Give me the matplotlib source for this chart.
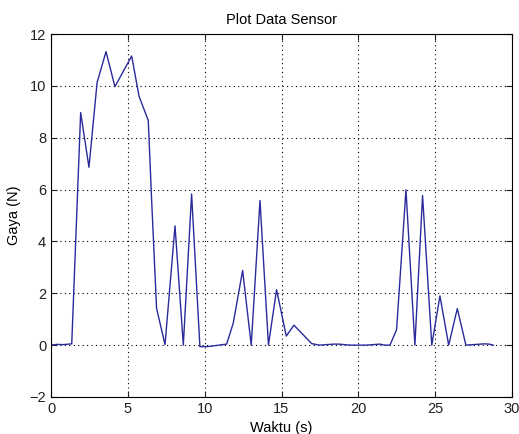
import matplotlib
matplotlib.use("Agg")
import matplotlib.pyplot as plt

waktu = [0.0, 0.4, 0.8, 1.35, 1.93, 2.47, 3.0, 3.58, 4.16, 5.25, 5.73, 6.33,
         6.55, 6.87, 7.42, 8.07, 8.61, 9.15, 9.69, 10.3, 11.43, 11.86, 12.47,
         13.03, 13.6, 14.15, 14.68, 15.31, 15.81, 16.96, 17.46, 18.4, 18.7,
         19.5, 20.5, 21.4, 21.7, 22.06, 22.49, 23.1, 23.68, 24.18, 24.78,
         25.31, 25.88, 26.44, 27.0, 28.2, 28.5, 28.78]
gaya = [0.0, 0.03, 0.02, 0.05, 8.97, 6.86, 10.13, 11.32, 9.97, 11.15, 9.6, 8.66,
        5.58, 1.42, 0.02, 4.6, 0.0, 5.83, -0.06, -0.05, 0.04, 0.85, 2.88,
        0.0, 5.58, 0.0, 2.14, 0.35, 0.77, 0.06, 0.0, 0.04, 0.04,
        0.0, 0.0, 0.04, 0.0, 0.0, 0.6, 5.99, 0.0, 5.77, 0.0,
        1.9, 0.0, 1.41, 0.0, 0.05, 0.04, 0.0]

x_ticks = [0, 5, 10, 15, 20, 25, 30]
y_ticks = [-2, 0, 2, 4, 6, 8, 10, 12]

plt.rcParams['font.family'] = ['Liberation Sans', 'DejaVu Sans']

fig = plt.figure(figsize=(5.19, 4.34), dpi=100)
ax = fig.add_axes([51/519, 37/434, 461/519, 363/434])
ax.plot(waktu, gaya, color='#2a2a9c', linewidth=1.0)
ax.set_xlim(0, 30)
ax.set_ylim(-2, 12)
ax.set_xticks(x_ticks)
ax.set_yticks(y_ticks)
ax.grid(True, linestyle=(0, (1, 3)), color='black', linewidth=0.8)
ax.tick_params(direction='in', top=True, right=True, labelsize=10.5, length=4, colors='#222222')
for s in ax.spines.values():
    s.set_linewidth(0.8)
ax.set_title('Plot Data Sensor', fontsize=10.5, pad=7)
ax.set_xlabel('Waktu (s)', fontsize=10.5, labelpad=4)
ax.set_ylabel('Gaya (N)', fontsize=10.5, labelpad=6)
fig.savefig('out.png', dpi=100)
